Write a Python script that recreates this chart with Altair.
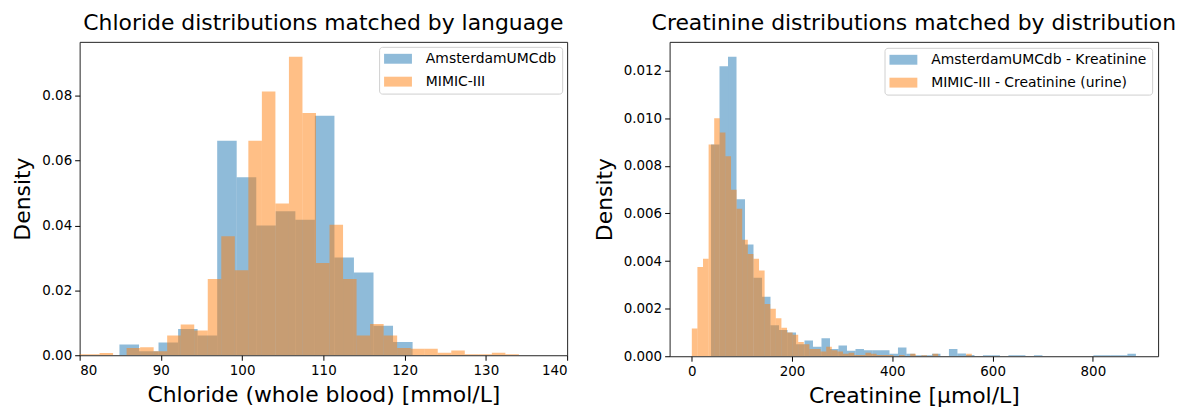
import altair as alt
import pandas as pd

FONT = "DejaVu Sans"

# ---------------- Left panel: Chloride ----------------
cl_blue_label = "AmsterdamUMCdb"
cl_orange_label = "MIMIC-III"
cl_blue_edges = [84.90, 87.31, 89.71, 92.12, 94.52, 96.93, 99.33, 101.74, 104.14,
                 106.55, 108.95, 111.36, 113.76, 116.17, 118.57, 120.98]
cl_blue_density = [0.0033, 0.0012, 0.0039, 0.0081, 0.0061, 0.0661, 0.0549, 0.0400,
                   0.0444, 0.0418, 0.0738, 0.0301, 0.0255, 0.0091, 0.0041]
cl_orange_edges = [79.12, 80.785, 82.45, 84.115, 85.78, 87.445, 89.11, 90.775, 92.44,
                   94.105, 95.77, 97.435, 99.10, 100.765, 102.43, 104.095, 105.76,
                   107.425, 109.09, 110.755, 112.42, 114.085, 115.75, 117.415, 119.08,
                   120.745, 122.41, 124.075, 125.74, 127.405, 129.07, 130.735, 132.40,
                   134.065]
cl_orange_density = [0.0003, 0.0003, 0.0007, 0.0, 0.0022, 0.0025, 0.0012, 0.0061,
                     0.0095, 0.0076, 0.0235, 0.0367, 0.0262, 0.0661, 0.0813, 0.0468,
                     0.0920, 0.0747, 0.0284, 0.0402, 0.0235, 0.0061, 0.0096, 0.0061,
                     0.0022, 0.0020, 0.0020, 0.0008, 0.0015, 0.0003, 0.0003, 0.0008,
                     0.0003]
cl_x_ticks = [80, 90, 100, 110, 120, 130, 140]
cl_y_ticks = [0.0, 0.02, 0.04, 0.06, 0.08]

# ---------------- Right panel: Creatinine ----------------
cr_blue_label = "AmsterdamUMCdb - Kreatinine"
cr_orange_label = "MIMIC-III - Creatinine (urine)"
cr_blue_edges = [38.3, 55.25, 72.2, 89.15, 106.1, 123.05, 140.0, 156.95, 173.9, 190.85,
                 207.8, 224.75, 241.7, 258.65, 275.6, 292.55, 309.5, 326.45, 343.4,
                 360.35, 377.3, 394.25, 411.2, 428.15, 445.1, 462.05, 479.0, 495.95,
                 512.9, 529.85, 546.8, 563.75, 580.7, 597.65, 614.6, 631.55, 648.5,
                 665.45, 682.4, 699.35, 716.3, 733.25, 750.2, 767.15, 784.1, 801.05,
                 818.0, 834.95, 851.9, 868.85, 885.8]
cr_blue_density = [0.0089, 0.01218, 0.01258, 0.0066, 0.0047, 0.0033, 0.0025, 0.0013,
                   0.0011, 0.0010, 0.0005, 0.00066, 0.0004, 0.00076, 0.0003, 0.00045,
                   0.00023, 0.0003, 0.00025, 0.00025, 0.00025, 0.0001, 0.00037, 0.0001,
                   0.00004, 0.00004, 0.0001, 0.0, 0.0003, 0.00012, 0.00005, 0.0,
                   0.00004, 0.00004, 0.0, 0.00004, 0.00004, 0.0, 0.00004, 0.0, 0.0,
                   0.0, 0.0, 0.0, 0.0, 0.00004, 0.00004, 0.00004, 0.00004, 0.0001]
cr_orange_edges = [0.0, 11.17, 22.34, 33.51, 44.68, 55.85, 67.02, 78.19, 89.36, 100.53,
                   111.7, 122.87, 134.04, 145.21, 156.38, 167.55, 178.72, 189.89,
                   201.06, 212.23, 223.4, 234.57, 245.74, 256.91, 268.08, 279.25,
                   290.42, 301.59, 312.76, 323.93, 335.1, 346.27, 357.44, 368.61,
                   379.78, 390.95, 402.12, 413.29, 424.46, 435.63, 446.8, 457.97,
                   469.14, 480.31, 491.48, 502.65, 513.82, 524.99, 536.16, 547.33,
                   558.5]
cr_orange_density = [0.00117, 0.00375, 0.0041, 0.0089, 0.0100, 0.0094, 0.0084, 0.0070,
                     0.0062, 0.0049, 0.0043, 0.0041, 0.0036, 0.0022, 0.0020, 0.0016,
                     0.0012, 0.0010, 0.0009, 0.0006, 0.0005, 0.0003, 0.0003, 0.0002,
                     0.0004, 0.00025, 0.0002, 0.0001, 0.00015, 0.00005, 0.00005,
                     0.00015, 0.0001, 0.00005, 0.00005, 0.00005, 0.0, 0.00005, 0.0,
                     0.0001, 0.0, 0.00004, 0.0, 0.0001, 0.0, 0.0, 0.0, 0.0, 0.0, 0.0001]
cr_x_ticks = [0, 200, 400, 600, 800]
cr_y_ticks = [0.0, 0.002, 0.004, 0.006, 0.008, 0.010, 0.012]

BLUE = "#1f77b4"
ORANGE = "#ff7f0e"
# wide legend patch (28 x 10 px at symbolSize 196), shifted so it starts at the entry's left edge
LEGEND_PATH = "M-1,-0.71L3,-0.71L3,0.71L-1,0.71Z"


def hist_df(edges, dens, label):
    return pd.DataFrame({"x": edges[:-1], "x2": edges[1:], "density": dens,
                         "series": label})


def panel(df, labels, xdom, xticks, xtitle, ydom, yticks, yfmt, title, width, height,
          loffset):
    return alt.Chart(df).mark_rect(opacity=0.5, clip=True, strokeWidth=0).encode(
        x=alt.X("x:Q", scale=alt.Scale(domain=xdom, nice=False, zero=False),
                axis=alt.Axis(values=xticks, format="d", title=xtitle, titlePadding=8)),
        x2="x2:Q",
        y=alt.Y("density:Q", scale=alt.Scale(domain=ydom, nice=False),
                axis=alt.Axis(values=yticks, format=yfmt, title="Density",
                              titlePadding=7)),
        y2=alt.datum(0),
        color=alt.Color("series:N", title=None,
                        scale=alt.Scale(domain=labels, range=[BLUE, ORANGE]),
                        legend=alt.Legend(orient="top-right", offset=loffset,
                                          symbolType=LEGEND_PATH, symbolSize=196,
                                          symbolOpacity=0.5, symbolStrokeWidth=0,
                                          labelFont=FONT, labelFontSize=14,
                                          labelColor="black", labelOffset=28,
                                          labelLimit=400,
                                          fillColor="white", strokeColor="#d0d0d0",
                                          padding=5, cornerRadius=3, rowPadding=9)),
    ).properties(width=width, height=height,
                 title=alt.Title(title, fontSize=22, font=FONT, fontWeight="normal",
                                 color="black", offset=7))


left_df = pd.concat([hist_df(cl_blue_edges, cl_blue_density, cl_blue_label),
                     hist_df(cl_orange_edges, cl_orange_density, cl_orange_label)],
                    ignore_index=True)
right_df = pd.concat([hist_df(cr_blue_edges, cr_blue_density, cr_blue_label),
                      hist_df(cr_orange_edges, cr_orange_density, cr_orange_label)],
                     ignore_index=True)

left = panel(left_df, [cl_blue_label, cl_orange_label], [80, 140], cl_x_ticks,
             "Chloride (whole blood) [mmol/L]", [0, 0.0966], cl_y_ticks, ".2f",
             "Chloride distributions matched by language", 490, 315, 5)
right = panel(right_df, [cr_blue_label, cr_orange_label], [-44.29, 930.09], cr_x_ticks,
              "Creatinine [μmol/L]", [0, 0.01321], cr_y_ticks, ".3f",
              "Creatinine distributions matched by distribution", 491, 316, 6)

chart = alt.hconcat(
    left, right, spacing=24, background="white",
    padding={"left": 3, "right": 2, "top": 2, "bottom": 2}
).resolve_scale(
    color="independent"
).configure_view(
    stroke="#222222", strokeWidth=1
).configure_axis(
    labelFont=FONT, titleFont=FONT, labelFontSize=13.5, titleFontSize=22,
    titleFontWeight="normal", labelColor="black", titleColor="black",
    tickColor="black", tickSize=5, tickWidth=1, domain=False, grid=False,
    labelPadding=3
)

chart.save("out.html", embed_options={"renderer": "svg", "actions": False})
